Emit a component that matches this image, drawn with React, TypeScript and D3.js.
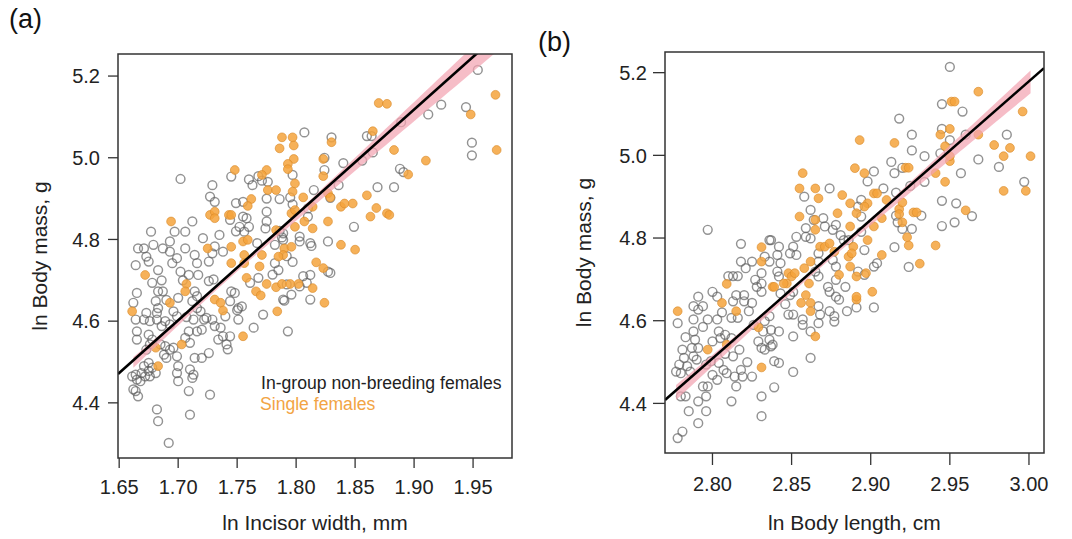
import React from 'react';
import * as d3 from 'd3';

type Pt = [number, number];

// axis ticks
const incisorTicks = [1.65, 1.7, 1.75, 1.8, 1.85, 1.9, 1.95];
const lengthTicks = [2.8, 2.85, 2.9, 2.95, 3.0];
const massTicks = [4.4, 4.6, 4.8, 5.0, 5.2];

// (a) ln incisor width vs ln body mass
const incisorGroup: Pt[] = [
  [1.702,4.948],[1.729,4.933],[1.727,4.905],[1.731,4.892],[1.712,4.844],[1.677,4.819],[1.697,4.819],[1.706,4.819],
  [1.721,4.803],[1.735,4.811],[1.693,4.795],[1.679,4.787],[1.666,4.778],[1.671,4.778],[1.687,4.778],[1.693,4.770],
  [1.706,4.778],[1.664,4.737],[1.673,4.758],[1.675,4.746],[1.683,4.725],[1.695,4.742],[1.699,4.754],[1.714,4.762],
  [1.716,4.742],[1.726,4.746],[1.729,4.766],[1.738,4.770],[1.702,4.721],[1.709,4.713],[1.717,4.713],[1.744,4.848],
  [1.731,4.783],
  [1.807,5.062],[1.830,5.050],[1.824,4.970],[1.745,4.954],[1.760,4.947],[1.763,4.933],[1.768,4.955],[1.776,4.941],
  [1.815,4.921],[1.836,4.933],[1.786,4.899],[1.795,4.903],[1.755,4.892],[1.749,4.889],[1.775,4.868],[1.755,4.856],
  [1.758,4.852],[1.810,4.856],[1.775,4.844],[1.774,4.827],[1.760,4.831],[1.752,4.831],[1.749,4.820],[1.789,4.815],
  [1.789,4.799],[1.803,4.807],[1.803,4.795],[1.812,4.791],[1.827,4.795],[1.782,4.742],[1.785,4.725],[1.829,4.902],
  [1.797,4.958],[1.786,4.821],[1.788,4.805],[1.813,4.784],[1.782,4.787],[1.792,4.759],[1.767,4.791],[1.756,4.819],
  [1.775,4.900],[1.771,4.944],[1.840,4.987],[1.810,4.876],[1.797,4.886],[1.824,5.000],[1.827,4.721],[1.812,4.713],
  [1.797,4.745],
  [1.954,5.215],[1.923,5.130],[1.912,5.106],[1.944,5.124],[1.949,5.037],[1.949,5.006],[1.889,5.087],[1.869,4.928],
  [1.883,4.928],[1.888,4.973],[1.891,4.965],[1.860,5.053],[1.864,5.053],[1.856,4.993],[1.865,5.013],[1.849,4.831],
  [1.678,4.694],[1.683,4.673],[1.687,4.673],[1.665,4.669],[1.714,4.673],[1.716,4.661],[1.726,4.698],[1.730,4.702],
  [1.662,4.645],[1.681,4.649],[1.683,4.632],[1.682,4.620],[1.682,4.604],[1.696,4.624],[1.699,4.612],[1.700,4.657],
  [1.673,4.620],[1.671,4.604],[1.664,4.604],[1.676,4.600],[1.689,4.600],[1.693,4.592],[1.712,4.649],[1.716,4.632],
  [1.719,4.624],[1.713,4.604],[1.722,4.604],[1.724,4.608],[1.729,4.604],[1.731,4.588],[1.736,4.584],[1.738,4.563],
  [1.741,4.543],[1.734,4.555],[1.720,4.579],[1.716,4.575],[1.709,4.575],[1.706,4.559],[1.710,4.547],[1.696,4.535],
  [1.693,4.530],[1.665,4.575],[1.665,4.555],[1.675,4.567],[1.678,4.555],[1.676,4.543],[1.673,4.530],[1.685,4.543],
  [1.688,4.518],[1.690,4.510],[1.689,4.539],[1.714,4.510],[1.720,4.510],[1.726,4.522],[1.699,4.514],[1.700,4.490],
  [1.699,4.473],[1.700,4.453],[1.675,4.498],[1.671,4.490],[1.669,4.473],[1.675,4.478],[1.678,4.486],[1.681,4.473],
  [1.661,4.465],[1.664,4.469],[1.665,4.457],[1.668,4.453],[1.672,4.465],[1.676,4.465],[1.710,4.482],[1.713,4.469],
  [1.712,4.461],[1.662,4.433],[1.664,4.429],[1.666,4.416],[1.709,4.429],[1.727,4.420],[1.682,4.384],[1.683,4.355],
  [1.710,4.371],[1.692,4.302],
  [1.745,4.673],[1.748,4.669],[1.744,4.649],[1.751,4.632],[1.754,4.636],[1.751,4.604],[1.772,4.616],[1.764,4.584],
  [1.744,4.563],[1.793,4.575],[1.789,4.653],[1.796,4.665],[1.803,4.685],[1.812,4.653],[1.792,4.690],[1.809,4.694],
  [1.829,4.718],[1.761,4.694],[1.768,4.706],[1.780,4.714],[1.806,4.710],[1.750,4.627],[1.742,4.531],[1.790,4.650],
  [1.686,4.700],[1.704,4.700],[1.690,4.652],[1.707,4.610],[1.686,4.588],[1.740,4.612],
];

const incisorSingle: Pt[] = [
  [1.727,4.860],[1.731,4.868],[1.731,4.852],[1.743,4.860],[1.694,4.844],[1.725,4.778],[1.672,4.713],
  [1.788,5.050],[1.797,5.050],[1.798,5.030],[1.786,5.023],[1.830,5.038],[1.798,4.997],[1.823,4.997],[1.793,4.985],
  [1.793,4.972],[1.748,4.970],[1.775,4.970],[1.771,4.958],[1.799,4.937],[1.823,4.955],[1.797,4.917],[1.776,4.921],
  [1.783,4.921],[1.827,4.913],[1.829,4.903],[1.806,4.903],[1.762,4.899],[1.759,4.882],[1.814,4.880],[1.838,4.880],
  [1.796,4.864],[1.799,4.872],[1.745,4.860],[1.827,4.844],[1.799,4.831],[1.807,4.844],[1.814,4.827],[1.783,4.823],
  [1.838,4.787],[1.755,4.795],[1.759,4.799],[1.745,4.782],[1.790,4.778],[1.796,4.782],[1.789,4.762],[1.785,4.758],
  [1.771,4.762],[1.756,4.762],[1.756,4.742],[1.745,4.742],[1.769,4.734],[1.817,4.744],[1.823,4.730],
  [1.948,5.106],[1.969,5.154],[1.970,5.019],[1.895,4.959],[1.883,5.019],[1.910,4.993],[1.870,5.134],[1.877,5.132],
  [1.865,5.065],[1.860,4.908],[1.848,4.888],[1.841,4.888],[1.868,4.877],[1.863,4.856],[1.877,4.864],[1.879,4.860],
  [1.850,4.775],
  [1.707,4.691],[1.706,4.673],[1.661,4.624],[1.693,4.645],[1.731,4.653],[1.736,4.645],[1.738,4.626],[1.703,4.543],
  [1.681,4.535],[1.683,4.490],
  [1.758,4.706],[1.775,4.691],[1.766,4.673],[1.770,4.663],[1.783,4.683],[1.788,4.691],[1.795,4.691],[1.802,4.691],
  [1.814,4.681],[1.824,4.645],[1.784,4.624],[1.755,4.563],
];

// (b) ln body length vs ln body mass
const lengthGroup: Pt[] = [
  [2.797,4.820],[2.818,4.786],[2.836,4.795],[2.818,4.743],[2.825,4.743],[2.821,4.727],[2.833,4.755],[2.836,4.743],
  [2.810,4.708],[2.813,4.708],[2.816,4.708],[2.827,4.699],[2.831,4.715],[2.831,4.690],[2.831,4.670],[2.800,4.670],
  [2.803,4.658],[2.791,4.658],[2.815,4.662],[2.820,4.662],
  [2.778,4.594],[2.788,4.635],[2.791,4.627],[2.794,4.635],[2.788,4.603],[2.797,4.603],[2.803,4.603],[2.812,4.607],
  [2.816,4.607],[2.823,4.623],[2.825,4.643],[2.813,4.647],[2.820,4.647],[2.833,4.599],[2.836,4.611],[2.832,4.574],
  [2.836,4.554],[2.838,4.542],[2.788,4.574],[2.789,4.554],[2.787,4.534],[2.791,4.534],[2.788,4.514],[2.790,4.506],
  [2.781,4.530],[2.782,4.510],[2.779,4.494],[2.784,4.490],[2.777,4.477],[2.780,4.473],[2.786,4.477],[2.800,4.550],
  [2.804,4.574],[2.805,4.558],[2.808,4.566],[2.812,4.558],[2.813,4.514],[2.817,4.530],[2.796,4.494],[2.799,4.502],
  [2.804,4.498],[2.807,4.481],[2.800,4.469],[2.803,4.457],[2.809,4.473],[2.814,4.465],[2.818,4.481],[2.819,4.465],
  [2.825,4.465],[2.794,4.441],[2.797,4.441],[2.796,4.417],[2.791,4.405],[2.785,4.381],[2.796,4.381],[2.791,4.352],
  [2.783,4.417],[2.780,4.417],[2.812,4.405],[2.815,4.441],[2.831,4.417],[2.831,4.369],[2.781,4.332],[2.778,4.316],
  [2.829,4.550],[2.831,4.534],[2.833,4.530],
  [2.848,4.615],[2.851,4.615],[2.857,4.603],[2.857,4.590],[2.867,4.635],[2.868,4.615],[2.867,4.594],[2.874,4.623],
  [2.877,4.611],[2.877,4.598],[2.885,4.623],[2.891,4.632],[2.902,4.632],[2.880,4.651],[2.842,4.574],[2.851,4.562],
  [2.862,4.574],[2.837,4.578],[2.837,4.538],[2.839,4.502],[2.842,4.498],[2.862,4.510],[2.851,4.476],[2.839,4.439],
  [2.902,4.961],[2.898,4.937],[2.874,4.920],[2.858,4.900],[2.894,4.892],[2.892,4.876],[2.908,4.920],[2.862,4.868],
  [2.864,4.844],[2.870,4.848],[2.894,4.852],[2.871,4.828],[2.876,4.820],[2.878,4.832],[2.881,4.807],[2.883,4.795],
  [2.859,4.824],[2.859,4.803],[2.862,4.799],[2.853,4.803],[2.851,4.779],[2.849,4.763],[2.853,4.759],[2.837,4.795],
  [2.842,4.779],[2.841,4.759],[2.843,4.739],[2.841,4.719],[2.842,4.707],[2.867,4.763],[2.867,4.743],[2.876,4.747],
  [2.878,4.731],[2.886,4.795],[2.894,4.815],[2.896,4.771],[2.892,4.719],[2.896,4.711],[2.902,4.731],[2.904,4.739],
  [2.878,4.699],[2.884,4.682],[2.873,4.682],[2.874,4.670],[2.878,4.658],[2.865,4.719],[2.867,4.707],[2.851,4.670],
  [2.849,4.662],[2.843,4.666],[2.913,4.984],
  [2.915,4.957],[2.916,4.910],[2.916,4.854],[2.917,4.838],[2.915,4.778],
  [2.926,5.012],[2.934,4.998],[2.944,5.005],[2.968,4.990],[2.981,4.972],[2.997,4.936],[2.957,4.957],[2.934,4.936],
  [2.945,4.890],[2.954,4.884],[2.964,4.853],[2.945,4.829],[2.953,4.838],[2.920,4.970],[2.925,4.926],[2.926,4.822],
  [2.920,4.822],[2.932,4.854],[2.924,4.730],
  [2.950,5.214],[2.945,5.124],[2.958,5.106],[2.918,5.089],[2.926,5.050],[2.945,5.064],[2.960,5.050],[2.950,5.037],
  [2.986,5.050],
  [2.783,4.560],[2.794,4.585],[2.806,4.620],[2.826,4.590],[2.822,4.500],[2.808,4.520],[2.828,4.682],[2.846,4.640],
];

const lengthSingle: Pt[] = [
  [2.831,4.778],[2.831,4.743],[2.809,4.689],[2.838,4.682],
  [2.778,4.623],[2.806,4.643],[2.815,4.623],[2.829,4.584],[2.797,4.530],[2.809,4.542],[2.831,4.487],
  [2.856,4.643],[2.862,4.643],[2.862,4.623],[2.865,4.562],[2.891,4.651],
  [2.857,4.957],[2.890,4.969],[2.896,4.957],[2.855,4.920],[2.865,4.920],[2.867,4.896],[2.882,4.904],[2.887,4.884],
  [2.902,4.908],[2.904,4.908],[2.898,4.884],[2.896,4.876],[2.910,4.892],[2.855,4.852],[2.865,4.844],[2.879,4.860],
  [2.891,4.860],[2.907,4.848],[2.865,4.820],[2.887,4.828],[2.902,4.828],[2.868,4.779],[2.871,4.779],[2.874,4.787],
  [2.898,4.795],[2.889,4.779],[2.886,4.755],[2.888,4.763],[2.877,4.767],[2.907,4.759],[2.862,4.743],[2.858,4.727],
  [2.848,4.715],[2.850,4.707],[2.852,4.715],[2.839,4.682],[2.847,4.690],[2.845,4.690],[2.861,4.690],[2.880,4.711],
  [2.887,4.731],[2.891,4.707],[2.897,4.715],[2.859,4.662],[2.891,4.658],[2.901,4.670],
  [2.918,4.870],[2.918,4.858],
  [2.988,5.018],[2.978,5.025],[2.984,4.998],[3.001,4.998],[2.984,4.914],[2.998,4.914],[2.947,5.022],[2.950,4.986],
  [2.950,4.998],[2.922,4.970],[2.924,4.970],[2.941,4.957],[2.947,4.936],[2.960,4.867],[2.920,4.886],[2.927,4.862],
  [2.929,4.862],[2.920,4.838],[2.923,4.802],[2.924,4.782],[2.931,4.738],[2.941,4.782],
  [2.951,5.130],[2.953,5.130],[2.968,5.154],[2.996,5.106],[2.950,5.064],[2.944,5.050],[2.968,5.050],[2.893,5.037],
  [2.915,5.030],
];

// fitted regression lines and confidence bands
const incisorFit = { x0: 1.65, y0: 4.473, slope: 2.58, from: 1.662, to: 1.99, mean: 1.745, seMin: 0.004, seSlope: 0.15, shift: -0.005 };
const lengthFit = { x0: 2.77, y0: 4.408, slope: 3.353, from: 2.777, to: 3.001, mean: 2.865, seMin: 0.004, seSlope: 0.2, shift: -0.005 };

const FONT = 'Liberation Sans, Arial, Helvetica, sans-serif';

type Fit = typeof incisorFit;

function Panel(props: {
  id: string;
  box: { l: number; t: number; r: number; b: number };
  xDomain: [number, number];
  yDomain: [number, number];
  xTicks: number[];
  group: Pt[];
  single: Pt[];
  fit: Fit;
  xLabel: string;
  yLabelX: number;
  tickLen: number;
  xLabelGap: number;
  children?: React.ReactNode;
}) {
  const { id, box, fit } = props;
  const x = d3.scaleLinear().domain(props.xDomain).range([box.l, box.r]);
  const y = d3.scaleLinear().domain(props.yDomain).range([box.b, box.t]);
  const fitY = (v: number) => fit.y0 + fit.slope * (v - fit.x0);
  const hw = (v: number) => Math.sqrt(fit.seMin ** 2 + (fit.seSlope * (v - fit.mean)) ** 2);
  const xs = d3.range(0, 61).map(i => fit.from + (fit.to - fit.from) * i / 60);
  const band = d3.area<number>()
    .x(v => x(v))
    .y0(v => y(fitY(v) + fit.shift - hw(v)))
    .y1(v => y(fitY(v) + fit.shift + hw(v)))(xs);
  const line = d3.line<number>().x(v => x(v)).y(v => y(fitY(v)))(props.xDomain);

  return (
    <g>
      <defs>
        <clipPath id={`clip-${id}`}>
          <rect x={box.l} y={box.t} width={box.r - box.l} height={box.b - box.t} />
        </clipPath>
      </defs>
      <g clipPath={`url(#clip-${id})`}>
        {props.group.map((d, i) => (
          <circle key={`g${i}`} cx={x(d[0])} cy={y(d[1])} r={4.4} fill="none" stroke="#5e5e5e" strokeOpacity={0.68} strokeWidth={1.45} />
        ))}
        {props.single.map((d, i) => (
          <circle key={`s${i}`} cx={x(d[0])} cy={y(d[1])} r={4.4} fill="#f5a33c" fillOpacity={0.85} stroke="#d98a2b" strokeOpacity={0.8} strokeWidth={0.8} />
        ))}
        <path d={band || ''} fill="#f2a3b1" fillOpacity={0.72} />
        <path d={line || ''} fill="none" stroke="#000" strokeWidth={2.6} />
      </g>
      <rect x={box.l} y={box.t} width={box.r - box.l} height={box.b - box.t} fill="none" stroke="#333" strokeWidth={1.5} />
      {props.xTicks.map(t => (
        <g key={`xt${t}`}>
          <line x1={x(t)} x2={x(t)} y1={box.b} y2={box.b + props.tickLen} stroke="#333" strokeWidth={1.3} />
          <text x={x(t)} y={box.b + props.xLabelGap} textAnchor="middle" fontSize={20} fill="#222">{d3.format('.2f')(t)}</text>
        </g>
      ))}
      {massTicks.map(t => (
        <g key={`yt${t}`}>
          <line x1={box.l - props.tickLen} x2={box.l} y1={y(t)} y2={y(t)} stroke="#333" strokeWidth={1.3} />
          <text x={box.l - 18} y={y(t)} dy="0.36em" textAnchor="end" fontSize={20} fill="#222">{d3.format('.1f')(t)}</text>
        </g>
      ))}
      <text x={(box.l + box.r) / 2} y={530} textAnchor="middle" fontSize={21} fill="#222">{props.xLabel}</text>
      <text transform={`translate(${props.yLabelX},${(box.t + box.b) / 2}) rotate(-90)`} textAnchor="middle" fontSize={21} fill="#222">ln Body mass, g</text>
      {props.children}
    </g>
  );
}

export default function App() {
  return (
    <svg width={1072} height={539} style={{ position: 'absolute', left: 0, top: 0, background: '#fff' }} fontFamily={FONT}>
      <text x={9} y={28} fontSize={27} fill="#111">(a)</text>
      <text x={538} y={51} fontSize={27} fill="#111">(b)</text>
      <Panel
        id="a"
        box={{ l: 118, t: 54, r: 512, b: 458 }}
        xDomain={[1.649, 1.983]}
        yDomain={[4.265, 5.254]}
        xTicks={incisorTicks}
        group={incisorGroup}
        single={incisorSingle}
        fit={incisorFit}
        xLabel="ln Incisor width, mm"
        yLabelX={47}
        tickLen={10}
        xLabelGap={36}
      >
        <text x={261} y={389} fontSize={17.6} fill="#222">In-group non-breeding females</text>
        <text x={260} y={410} fontSize={17.6} fill="#f2a444">Single females</text>
      </Panel>
      <Panel
        id="b"
        box={{ l: 665, t: 52, r: 1044, b: 453 }}
        xDomain={[2.77, 3.0095]}
        yDomain={[4.28, 5.25]}
        xTicks={lengthTicks}
        group={lengthGroup}
        single={lengthSingle}
        fit={lengthFit}
        xLabel="ln Body length, cm"
        yLabelX={591}
        tickLen={12}
        xLabelGap={38}
      />
    </svg>
  );
}
